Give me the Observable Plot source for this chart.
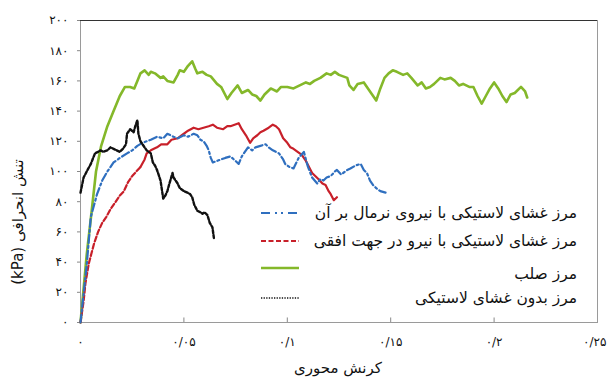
<!DOCTYPE html>
<html lang="fa">
<head>
<meta charset="utf-8">
<script src="https://cdn.jsdelivr.net/npm/d3@7"></script>
<script src="https://cdn.jsdelivr.net/npm/@observablehq/plot@0.6"></script>
<style>
  html, body { margin: 0; padding: 0; background: #fff; }
  #chart { position: relative; width: 607px; height: 381px; font-family: "DejaVu Sans", sans-serif; color: #111; }
  #chart svg { display: block; }
  .ylab { position: absolute; left: 18px; top: 222px; transform: translate(-50%, -50%) rotate(-90deg);
          white-space: nowrap; direction: rtl; font-size: 15px; }
  .xlab { position: absolute; left: 338px; top: 368px; transform: translate(-50%, -50%);
          white-space: nowrap; direction: rtl; font-size: 15px; }
  .leg-text { position: absolute; right: 30px; direction: rtl; white-space: nowrap; font-size: 15.5px; transform: translateY(-50%); }
  .leg-key { position: absolute; left: 261px; width: 38px; height: 6px; transform: translateY(-50%); overflow: visible; }
</style>
</head>
<body>
<div id="chart"></div>
<script>
// Tick values and their Persian labels
const xTicks = [0, 0.05, 0.1, 0.15, 0.2, 0.25];
const xTickLabels = ["۰", "۰/۰۵", "۰/۱", "۰/۱۵", "۰/۲", "۰/۲۵"];
const yTicks = [0, 20, 40, 60, 80, 100, 120, 140, 160, 180, 200];
const yTickLabels = ["۰", "۲۰", "۴۰", "۶۰", "۸۰", "۱۰۰", "۱۲۰", "۱۴۰", "۱۶۰", "۱۸۰", "۲۰۰"];

// Series names
const seriesNames = [
  "مرز غشای لاستیکی با نیروی نرمال بر آن",
  "مرز غشای لاستیکی با نیرو در جهت افقی",
  "مرز صلب",
  "مرز بدون غشای لاستیکی"
];

// [axial strain, deviatoric stress kPa]
const normalForce = [
  [0,0],[0.003,38],[0.005,70],[0.008,85],[0.0105,94],[0.013,100],[0.016,106],[0.019,109],
  [0.0225,112],[0.025,114],[0.0275,117],[0.030,119],[0.032,120],[0.034,121],[0.037,123],
  [0.040,122],[0.042,125],[0.045,123],[0.047,122],[0.050,124],[0.052,123],[0.0547,125],
  [0.0565,124],[0.058,121],[0.0595,120],[0.061,117],[0.062,114],[0.063,109],[0.064,106],
  [0.066,107],[0.068,108],[0.070,109],[0.0725,110],[0.075,107],[0.0765,105],[0.078,110],
  [0.081,116],[0.083,114],[0.0846,116],[0.087,117],[0.0895,118],[0.091,116],[0.093,114],
  [0.096,112],[0.098,108],[0.099,105],[0.101,103],[0.103,102],[0.1055,109],[0.108,113],
  [0.110,103],[0.112,96],[0.1145,92],[0.116,95],[0.1175,94],[0.119,96],[0.121,97],
  [0.123,100],[0.124,101],[0.126,98],[0.127,99],[0.129,101],[0.1305,102],[0.133,104],
  [0.1355,105],[0.137,101],[0.1385,99],[0.140,94],[0.1415,91],[0.143,89],[0.145,87],[0.1475,86]
];

const horizontalForce = [
  [0,0],[0.0015,14],[0.0024,26],[0.004,39],[0.0065,52],[0.0085,60],[0.0105,66],[0.0125,70],
  [0.0145,75],[0.0165,79],[0.019,84],[0.021,87],[0.023,93],[0.025,97],[0.027,100],[0.029,103],
  [0.031,108],[0.032,112],[0.034,114],[0.037,116],[0.039,118],[0.042,118],[0.044,121],
  [0.047,122],[0.049,124],[0.052,127],[0.0547,129],[0.057,128],[0.0595,129],[0.062,130],
  [0.064,131],[0.066,129],[0.069,128],[0.071,130],[0.0725,130],[0.0745,131],[0.0765,132],
  [0.078,128],[0.080,124],[0.082,119],[0.0835,122],[0.0855,124],[0.087,126],[0.0885,127],
  [0.091,129],[0.093,131],[0.0945,130],[0.096,128],[0.098,122],[0.100,119],[0.1015,116],
  [0.103,115],[0.105,113],[0.107,111],[0.109,107],[0.1105,103],[0.112,99],[0.1135,97],
  [0.115,95],[0.117,92],[0.1185,91],[0.120,87],[0.121,85],[0.1225,81],[0.124,83]
];

const rigid = [
  [0,0],[0.003,45],[0.0055,75],[0.0075,100],[0.010,117],[0.013,130],[0.016,140],[0.019,150],
  [0.0215,156],[0.024,156],[0.026,155],[0.0275,160],[0.029,165],[0.031,167],[0.033,164],
  [0.034,166],[0.036,165],[0.0387,162],[0.040,163],[0.042,160],[0.045,159],[0.047,164],
  [0.048,167],[0.050,166],[0.052,170],[0.054,173],[0.0555,168],[0.0565,165],[0.059,166],
  [0.061,164],[0.063,163],[0.066,158],[0.068,156],[0.071,148],[0.073,152],[0.076,157],
  [0.078,152],[0.081,154],[0.083,151],[0.085,150],[0.087,147],[0.089,151],[0.092,155],
  [0.095,153],[0.097,156],[0.100,156],[0.103,155],[0.106,157],[0.109,159],[0.111,158],
  [0.113,160],[0.116,162],[0.119,165],[0.121,164],[0.123,166],[0.125,164],[0.127,163],
  [0.129,162],[0.130,157],[0.132,154],[0.134,158],[0.137,159],[0.139,155],[0.141,151],
  [0.143,147],[0.145,155],[0.147,162],[0.149,165],[0.151,167],[0.153,166],[0.156,164],
  [0.158,165],[0.160,162],[0.163,157],[0.165,159],[0.167,155],[0.169,156],[0.171,158],
  [0.174,162],[0.176,161],[0.179,162],[0.181,160],[0.183,157],[0.185,158],[0.188,156],
  [0.190,156],[0.192,150],[0.194,145],[0.196,150],[0.198,155],[0.200,159],[0.202,155],
  [0.204,150],[0.206,146],[0.208,151],[0.210,152],[0.213,156],[0.215,153],[0.216,149]
];

const noMembrane = [
  [0,86],[0.0015,96],[0.003,100],[0.005,105],[0.007,112],[0.0085,113],[0.0097,114],[0.011,113],
  [0.013,114],[0.0145,116],[0.016,115],[0.0175,114],[0.019,113],[0.0205,115],[0.022,118],
  [0.0225,125],[0.024,128],[0.0257,126],[0.0265,130],[0.0275,134],[0.028,125],[0.029,120],
  [0.030,118],[0.032,114],[0.033,113],[0.034,112],[0.035,106],[0.036,104],[0.037,101],
  [0.038,97],[0.0387,94],[0.040,82],[0.041,84],[0.042,87],[0.043,92],[0.0445,99],[0.045,96],
  [0.046,94],[0.047,92],[0.048,89],[0.050,87],[0.0517,86],[0.053,85],[0.054,83],[0.055,78],
  [0.0565,74],[0.058,73],[0.059,72],[0.060,73],[0.0614,71],[0.0625,66],[0.0638,63],[0.0645,56]
];

const colors = { blue: "#2f6fbf", red: "#c8202a", green: "#84b82a", black: "#111" };

const toRows = (arr) => arr.map(([strain, stress]) => ({strain, stress}));
const blueRows = toRows(normalForce);
const redRows = toRows(horizontalForce);
const greenRows = toRows(rigid);
const blackRows = toRows(noMembrane);

const lastX = xTicks.length - 1;

const plot = Plot.plot({
  width: 607,
  height: 381,
  marginLeft: 80,
  marginRight: 10,
  marginTop: 20,
  marginBottom: 59,
  style: { fontFamily: "DejaVu Sans, sans-serif", fontSize: "12px", color: "#111", background: "#fff" },
  x: { domain: [0, 0.25] },
  y: { domain: [0, 200] },
  marks: [
    Plot.frame({ stroke: "#9a9a9a" }),
    Plot.ruleY([200], { stroke: "#333", strokeWidth: 1.2 }),
    Plot.axisY({ ticks: yTicks, tickFormat: (d, i) => yTickLabels[i], tickSize: 3, tickPadding: 9, label: null, stroke: "#888" }),
    // all x labels but the last are centred on their tick
    Plot.axisX({ ticks: xTicks.slice(0, lastX), tickFormat: (d, i) => xTickLabels[i], tickSize: 0, tickPadding: 15, label: null }),
    // the last one sits against the right edge
    Plot.axisX({ ticks: xTicks.slice(lastX), tickFormat: () => xTickLabels[lastX], tickSize: 0, tickPadding: 15, label: null, textAnchor: "end", dx: 9 }),
    Plot.ruleX(xTicks.slice(1, -1), { y1: 0, y2: 3, stroke: "#888" }),
    Plot.line(greenRows, { x: "strain", y: "stress", stroke: colors.green, strokeWidth: 2.6 }),
    Plot.line(redRows.filter(d => d.strain <= 0.03), { x: "strain", y: "stress", stroke: colors.red, strokeWidth: 2.2, strokeDasharray: "5,2.5" }),
    Plot.line(redRows.filter(d => d.strain >= 0.029), { x: "strain", y: "stress", stroke: colors.red, strokeWidth: 2.2 }),
    Plot.line(blueRows, { x: "strain", y: "stress", stroke: colors.blue, strokeWidth: 2.2, strokeDasharray: "8,3,2,3" }),
    Plot.line(blackRows, { x: "strain", y: "stress", stroke: colors.black, strokeWidth: 2.4, strokeDasharray: "3,1.8" })
  ]
});

const chart = document.getElementById("chart");
chart.appendChild(plot);

// Axis titles
const ylab = document.createElement("div");
ylab.className = "ylab";
ylab.textContent = "تنش انحرافی (kPa)";
chart.appendChild(ylab);

const xlab = document.createElement("div");
xlab.className = "xlab";
xlab.textContent = "کرنش محوری";
chart.appendChild(xlab);

// Legend inside the plot area
const legendRows = [
  { name: seriesNames[0], color: colors.blue, dash: "9,5,2,4,2,5", width: 2.2, keyY: 213, textY: 213 },
  { name: seriesNames[1], color: colors.red, dash: "5,2.5", width: 2.2, keyY: 241, textY: 241 },
  { name: seriesNames[2], color: colors.green, dash: null, width: 2.4, keyY: 268, textY: 274 },
  { name: seriesNames[3], color: colors.black, dash: "1.3,1.3", width: 1.6, keyY: 298, textY: 298 }
];
for (const r of legendRows) {
  const t = document.createElement("div");
  t.className = "leg-text";
  t.style.top = r.textY + "px";
  t.textContent = r.name;
  chart.appendChild(t);
  const key = d3.create("svg").attr("class", "leg-key").attr("width", 38).attr("height", 6).style("top", r.keyY + "px");
  key.append("line").attr("x1", 0).attr("x2", 38).attr("y1", 3).attr("y2", 3)
    .attr("stroke", r.color).attr("stroke-width", r.width).attr("stroke-dasharray", r.dash);
  chart.appendChild(key.node());
}
</script>
</body>
</html>
